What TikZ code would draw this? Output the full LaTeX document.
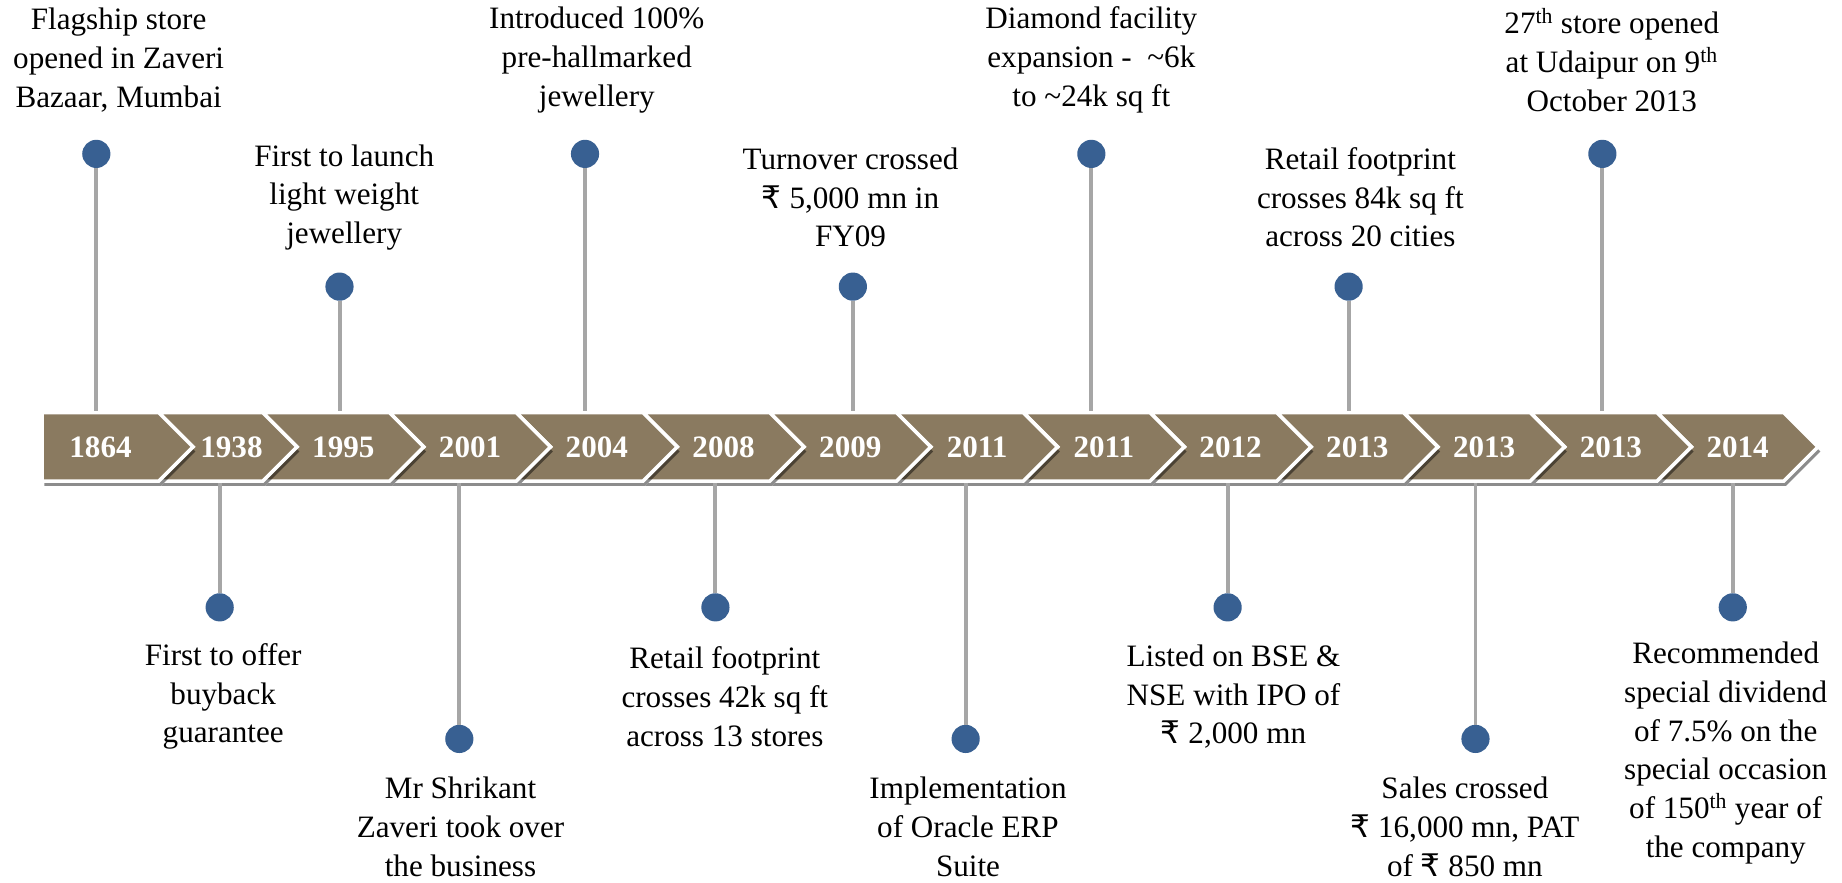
\documentclass[tikz,border=0pt]{standalone}
\usepackage{fontspec}
\setmainfont{Liberation Serif}
\newfontfamily\rupeefont{DejaVu Sans}
\newcommand\rupee{{\rupeefont ₹}}
\usepackage{tikz}
\usetikzlibrary{shapes.symbols,shadows}
\definecolor{chevfill}{RGB}{138,122,96}
\definecolor{dotblue}{RGB}{56,96,146}
\definecolor{stemgray}{RGB}{166,166,166}

\begin{document}
\begin{tikzpicture}[
    x=1pt,y=-1pt,
    year node/.style={shape=signal,signal to=east,signal from=west,
      signal pointer angle=90,minimum height=58.2pt,minimum width=136.9pt,
      inner sep=0pt,fill=chevfill,draw=white,line width=3pt,
      drop shadow={shadow xshift=2pt,shadow yshift=-4pt,fill=black,opacity=.45},
      text=white,font=\fontsize{26.5}{30}\selectfont\bfseries},
    event dot/.style={circle,fill=dotblue,minimum size=24pt,inner sep=0pt},
    event text/.style={align=center,font=\fontsize{26.5}{33}\selectfont},
    stem line/.style={draw=stemgray,line width=3.4pt}
  ]
    \useasboundingbox (0,0) rectangle (1568,751);
    \node[year node] (c14) at (1479.15,380.4) {2014};
    \node[year node] (c13) at (1371.25,380.4) {2013};
    \node[year node] (c12) at (1263.35,380.4) {2013};
    \node[year node] (c11) at (1155.45,380.4) {2013};
    \node[year node] (c10) at (1047.55,380.4) {2012};
    \node[year node] (c9) at (939.65,380.4) {2011};
    \node[year node] (c8) at (831.75,380.4) {2011};
    \node[year node] (c7) at (723.85,380.4) {2009};
    \node[year node] (c6) at (615.95,380.4) {2008};
    \node[year node] (c5) at (508.05,380.4) {2004};
    \node[year node] (c4) at (400.15,380.4) {2001};
    \node[year node] (c3) at (292.25,380.4) {1995};
    \node[year node,minimum width=117.5pt] (c2) at (194.05,380.4) {\hspace{6pt}1938};
    \node[year node,signal from=nowhere,minimum width=128.5pt] (c1) at (85.55,380.4) {1864\hspace{7pt}};
    \node[event dot] (d1) at (82,131) {};
    \node[event dot] (d2) at (187,517) {};
    \node[event dot] (d3) at (289,244) {};
    \node[event dot] (d4) at (391,629) {};
    \node[event dot] (d5) at (498,131) {};
    \node[event dot] (d6) at (609,517) {};
    \node[event dot] (d7) at (726,244) {};
    \node[event dot] (d8) at (822,629) {};
    \node[event dot] (d9) at (929,131) {};
    \node[event dot] (d10) at (1045,517) {};
    \node[event dot] (d11) at (1148,244) {};
    \node[event dot] (d12) at (1256,629) {};
    \node[event dot] (d13) at (1364,131) {};
    \node[event dot] (d14) at (1475,517) {};
    \draw[stem line] (d1) -- (d1 |- c1.north);
    \draw[stem line] (d2) -- (d2 |- c2.south);
    \draw[stem line] (d3) -- (d3 |- c3.north);
    \draw[stem line] (d4) -- (d4 |- c4.south);
    \draw[stem line] (d5) -- (d5 |- c5.north);
    \draw[stem line] (d6) -- (d6 |- c6.south);
    \draw[stem line] (d7) -- (d7 |- c7.north);
    \draw[stem line] (d8) -- (d8 |- c8.south);
    \draw[stem line] (d9) -- (d9 |- c9.north);
    \draw[stem line] (d10) -- (d10 |- c10.south);
    \draw[stem line] (d11) -- (d11 |- c11.north);
    \draw[stem line] (d12) -- (d12 |- c12.south);
    \draw[stem line] (d13) -- (d13 |- c13.north);
    \draw[stem line] (d14) -- (d14 |- c14.south);
    \node[event text] (t1) at (101,51) {Flagship store\\opened in Zaveri\\Bazaar, Mumbai};
    \node[event text] (t2) at (190,593) {First to offer\\buyback\\guarantee};
    \node[event text] (t3) at (293,168) {First to launch\\light weight\\jewellery};
    \node[event text] (t4) at (392,704) {Mr Shrikant\\Zaveri took over\\the business};
    \node[event text] (t5) at (508,51) {Introduced 100\%\\pre-hallmarked\\jewellery};
    \node[event text] (t6) at (617,593) {Retail footprint\\crosses 42k sq ft\\across 13 stores};
    \node[event text] (t7) at (724,168) {Turnover crossed\\\rupee\ 5,000 mn in\\FY09};
    \node[event text] (t8) at (824,704) {Implementation\\of Oracle ERP\\Suite};
    \node[event text] (t9) at (929,51) {Diamond facility\\expansion -\ \ \textasciitilde6k\\to \textasciitilde24k sq ft};
    \node[event text] (t10) at (1050,593) {Listed on BSE \&\\NSE with IPO of\\\rupee\ 2,000 mn};
    \node[event text] (t11) at (1158,168) {Retail footprint\\crosses 84k sq ft\\across 20 cities};
    \node[event text] (t12) at (1247,704) {Sales crossed\\\rupee\ 16,000 mn, PAT\\of \rupee\ 850 mn};
    \node[event text] (t13) at (1372,51) {27\textsuperscript{th} store opened\\at Udaipur on 9\textsuperscript{th}\\October 2013};
    \node[event text] (t14) at (1469,641) {Recommended\\special dividend\\of 7.5\% on the\\special occasion\\of 150\textsuperscript{th} year of\\the company};
\end{tikzpicture}
\end{document}
